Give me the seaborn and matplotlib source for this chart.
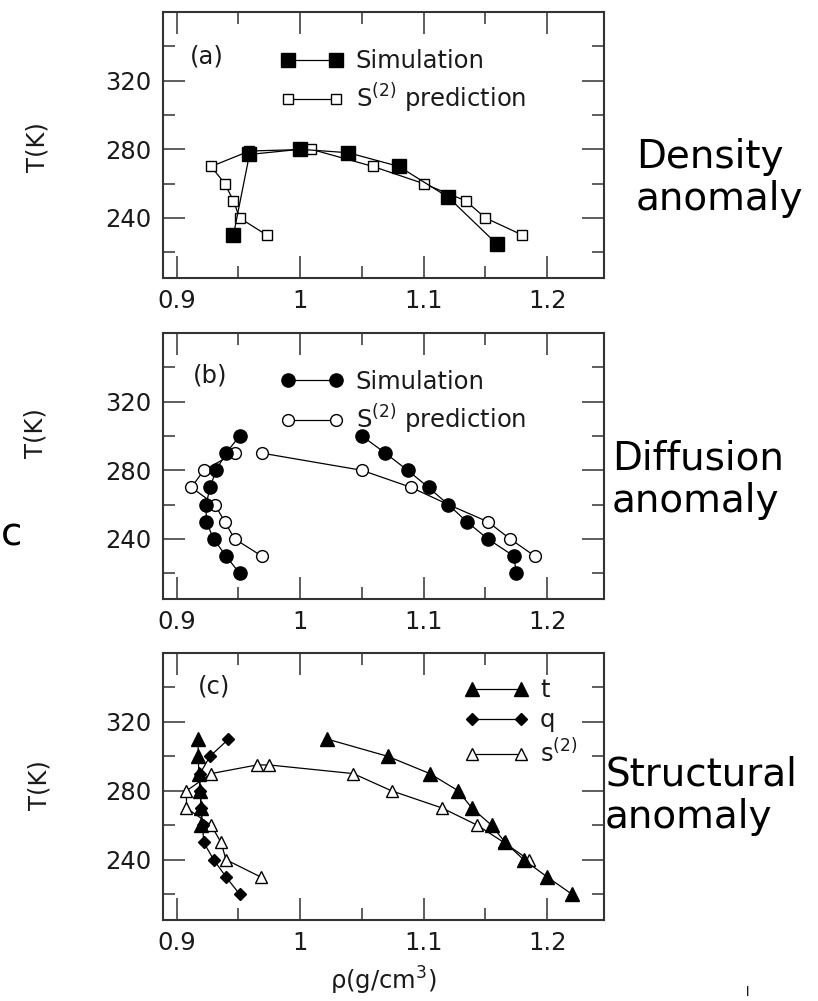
import numpy as np
import pandas as pd
import matplotlib
matplotlib.use("Agg")
import matplotlib.pyplot as plt
import seaborn as sns
from matplotlib.ticker import FixedLocator, FixedFormatter
from matplotlib.lines import Line2D

# ---------------- data ----------------
# panel (a) density anomaly
a_sim_rho = [0.946, 0.959, 1.000, 1.039, 1.080, 1.120, 1.159]
a_sim_T = [230, 277, 280, 278, 270, 252, 225]
a_s2_rho = [0.973, 0.951, 0.946, 0.939, 0.928, 0.959, 1.009, 1.059, 1.100, 1.134, 1.150, 1.180]
a_s2_T = [230, 240, 250, 260, 270, 279, 280, 270, 260, 250, 240, 230]

# panel (b) diffusion anomaly
b_sim_low_rho = [0.951, 0.940, 0.932, 0.927, 0.924, 0.924, 0.930, 0.940, 0.951]
b_sim_low_T = [300, 290, 280, 270, 260, 250, 240, 230, 220]
b_sim_high_rho = [1.050, 1.069, 1.087, 1.104, 1.120, 1.135, 1.152, 1.173, 1.175]
b_sim_high_T = [300, 290, 280, 270, 260, 250, 240, 230, 220]
b_s2_low_rho = [0.969, 0.947, 0.939, 0.931, 0.912, 0.922, 0.947]
b_s2_low_T = [230, 240, 250, 260, 270, 280, 290]
b_s2_high_rho = [0.969, 1.050, 1.090, 1.120, 1.152, 1.170, 1.190]
b_s2_high_T = [290, 280, 270, 260, 250, 240, 230]

# panel (c) structural anomaly
c_t_low_rho = [0.9175, 0.9175, 0.918, 0.919, 0.920, 0.920]
c_t_low_T = [310, 300, 290, 280, 270, 260]
c_t_high_rho = [1.022, 1.071, 1.105, 1.128, 1.139, 1.155, 1.166, 1.181, 1.200, 1.220]
c_t_high_T = [310, 300, 290, 280, 270, 260, 250, 240, 230, 220]
c_q_rho = [0.942, 0.927, 0.919, 0.919, 0.920, 0.921, 0.922, 0.930, 0.940, 0.951]
c_q_T = [310, 300, 290, 280, 270, 260, 250, 240, 230, 220]
c_s2_rho = [0.968, 0.940, 0.936, 0.928, 0.908, 0.908, 0.928, 0.965, 0.975,
            1.043, 1.074, 1.115, 1.1435, 1.165, 1.185]
c_s2_T = [230, 240, 250, 260, 270, 280, 290, 295, 295,
          290, 280, 270, 260, 250, 240]

x_major = [0.9, 1.0, 1.1, 1.2]
x_major_labels = ["0.9", "1", "1.1", "1.2"]
x_minor = [0.95, 1.05, 1.15]
y_major = [240, 280, 320]
y_major_labels = ["240", "280", "320"]
y_minor = [220, 260, 300, 340]

panel_tags = ["(a)", "(b)", "(c)"]
side_labels = ["Density\nanomaly", "Diffusion\nanomaly", "Structural\nanomaly"]
legend_ab = ["Simulation", r"S$^{(2)}$ prediction"]
legend_c = ["t", "q", r"s$^{(2)}$"]

# ---------------- style ----------------
sns.set_style("ticks")
plt.rcParams["font.family"] = ["DejaVu Sans"]
plt.rcParams["mathtext.fontset"] = "dejavusans"
plt.rcParams["mathtext.default"] = "regular"
FS = 17.5
FRAME = "#333333"
TXT = "#1a1a1a"

fig = plt.figure(figsize=(8.18, 10.01), dpi=100)
W, H = 818, 1001


def axes_px(left, top, right, bottom):
    return fig.add_axes([left / W, 1 - bottom / H, (right - left) / W, (bottom - top) / H])


ax_a = axes_px(163, 12, 604, 278)
ax_b = axes_px(163, 333, 604, 599)
ax_c = axes_px(163, 653, 604, 920)
axes = [ax_a, ax_b, ax_c]

LW = 0.9


def draw(ax, rho, T, marker, filled, ms, z=2):
    df = pd.DataFrame({"rho": rho, "T": T})
    sns.lineplot(data=df, x="rho", y="T", sort=False, estimator=None, ax=ax,
                 color="black", lw=LW, marker=marker, markersize=ms,
                 markerfacecolor="black" if filled else "white",
                 markeredgecolor="black", markeredgewidth=1.0,
                 legend=False, zorder=z)


def handle(marker, filled, ms):
    return Line2D([], [], color="black", lw=LW, marker=marker, markersize=ms,
                  markerfacecolor="black" if filled else "white",
                  markeredgecolor="black", markeredgewidth=1.0)


# (a)
draw(ax_a, a_s2_rho, a_s2_T, "s", False, 7.5, 2)
draw(ax_a, a_sim_rho, a_sim_T, "s", True, 9.5, 3)
# (b)
draw(ax_b, b_s2_low_rho, b_s2_low_T, "o", False, 8.5, 2)
draw(ax_b, b_s2_high_rho, b_s2_high_T, "o", False, 8.5, 2)
draw(ax_b, b_sim_low_rho, b_sim_low_T, "o", True, 9.5, 3)
draw(ax_b, b_sim_high_rho, b_sim_high_T, "o", True, 9.5, 3)
# (c)
draw(ax_c, c_s2_rho, c_s2_T, "^", False, 9, 2)
draw(ax_c, c_q_rho, c_q_T, "D", True, 6.5, 3)
draw(ax_c, c_t_low_rho, c_t_low_T, "^", True, 9.5, 4)
draw(ax_c, c_t_high_rho, c_t_high_T, "^", True, 9.5, 4)

leg_kw = dict(loc="upper left", numpoints=2, handlelength=2.6, handletextpad=0.5,
              borderaxespad=0, borderpad=0, frameon=False, fontsize=FS)
for t in []:
    pass
la = ax_a.legend([handle("s", True, 9.5), handle("s", False, 7.5)], legend_ab,
                 bbox_to_anchor=(0.266, 0.86), labelspacing=0.35, **leg_kw)
lb = ax_b.legend([handle("o", True, 9.5), handle("o", False, 8.5)], legend_ab,
                 bbox_to_anchor=(0.266, 0.862), labelspacing=0.35, **leg_kw)
lc = ax_c.legend([handle("^", True, 9.5), handle("D", True, 6.5), handle("^", False, 9)], legend_c,
                 bbox_to_anchor=(0.684, 0.905), labelspacing=0.25, **leg_kw)
for lg in (la, lb, lc):
    for t in lg.get_texts():
        t.set_color(TXT)

tag_pos = [(0.061, 0.831), (0.068, 0.841), (0.079, 0.873)]
ylab_pos = [(50, 147), (47, 433), (52, 785)]
tops = [12, 333, 653]
for ax, tag, tp, yl, top in zip(axes, panel_tags, tag_pos, ylab_pos, tops):
    ax.set_xlim(0.889, 1.246)
    ax.set_ylim(205, 360)
    ax.xaxis.set_major_locator(FixedLocator(x_major))
    ax.xaxis.set_major_formatter(FixedFormatter(x_major_labels))
    ax.xaxis.set_minor_locator(FixedLocator(x_minor))
    ax.yaxis.set_major_locator(FixedLocator(y_major))
    ax.yaxis.set_major_formatter(FixedFormatter(y_major_labels))
    ax.yaxis.set_minor_locator(FixedLocator(y_minor))
    ax.tick_params(which="both", direction="in", top=True, right=True,
                   color=FRAME, width=1.1, labelsize=FS, labelcolor=TXT)
    ax.tick_params(which="major", length=16, pad=8)
    ax.tick_params(which="minor", length=8.5)
    for s in ax.spines.values():
        s.set_color(FRAME)
        s.set_linewidth(1.5)
    ax.set_xlabel("")
    ax.set_ylabel("T(K)", fontsize=FS, color=TXT)
    yfrac = (266 - (yl[1] - top)) / 266.0
    ax.yaxis.set_label_coords((yl[0] - 163) / 441.0, yfrac)
    ax.text(tp[0], tp[1], tag, transform=ax.transAxes, fontsize=FS,
            ha="left", va="center", color=TXT)

ax_c.set_xlabel("ρ(g/cm$^{3}$)", fontsize=FS, color=TXT, labelpad=7)

# right-hand annotations
side_pos = [(636, 178), (612, 480), (605, 796)]
for txt, (px, py) in zip(side_labels, side_pos):
    fig.text(px / W, 1 - py / H, txt, ha="left", va="center", fontsize=28,
             linespacing=1.15, color="black", zorder=10)

# fragments of text at the figure edges (kept fully inside the canvas)
fig.text(1 / W, 1 - 535 / H, "c", ha="left", va="center", fontsize=28, color="black")
fig.text(748 / W, 1 - 999 / H, "l", ha="center", va="bottom", fontsize=9, color="black")

fig.savefig("out.png", dpi=100, facecolor="white")
